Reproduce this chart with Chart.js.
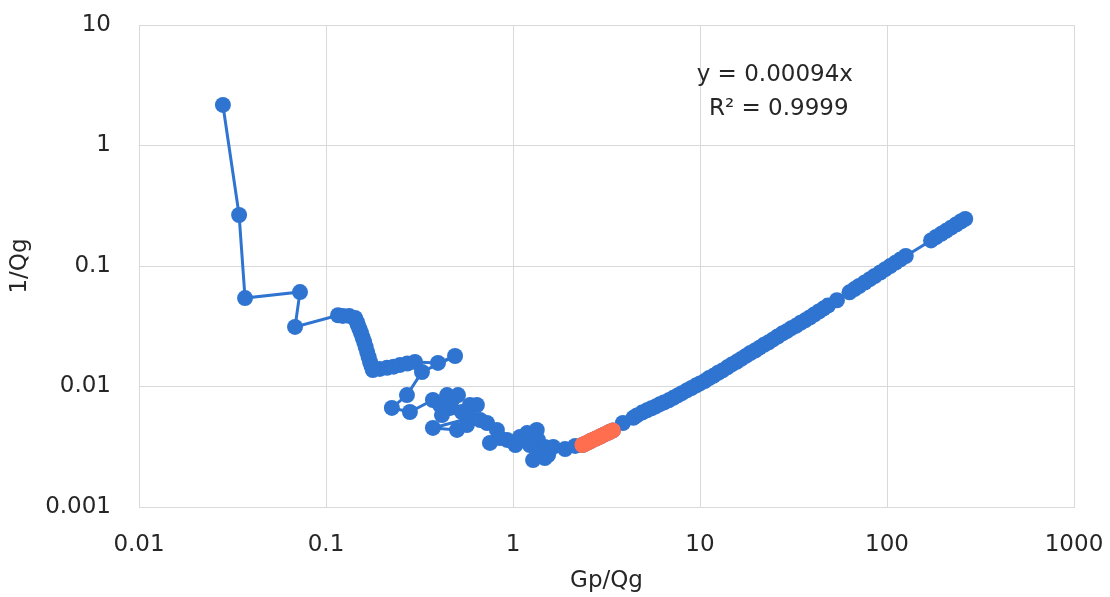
<!DOCTYPE html>
<html>
<head>
<meta charset="utf-8">
<script src="https://cdn.jsdelivr.net/npm/chart.js@4.4.1/dist/chart.umd.min.js"></script>
<style>
  html, body { margin: 0; padding: 0; background: #fff; }
  #wrap { width: 1110px; height: 597px; }
</style>
</head>
<body>
<div id="wrap"><canvas id="myChart" width="1110" height="597"></canvas></div>
<script>
// early, noisy part of the curve (Gp/Qg, 1/Qg)
const earlyX = [0.0281, 0.0343, 0.0369, 0.0726, 0.0683, 0.116, 0.123, 0.133, 0.143, 0.146, 0.148, 0.151, 0.154, 0.157,
  0.160, 0.163, 0.166, 0.169, 0.172, 0.175, 0.178, 0.194, 0.212, 0.230, 0.249, 0.272, 0.299, 0.397, 0.490, 0.326,
  0.271, 0.225, 0.281, 0.373, 0.407, 0.444, 0.472, 0.508, 0.461, 0.417, 0.533, 0.589, 0.641, 0.589, 0.373, 0.502,
  0.567, 0.667, 0.726, 0.820, 0.753, 0.851, 0.929, 1.03, 1.09, 1.19, 1.34, 1.36, 1.23, 1.39, 1.28, 1.48, 1.54, 1.48,
  1.64, 1.90, 2.15];
const earlyY = [2.17, 0.265, 0.0542, 0.0608, 0.0312, 0.039, 0.0385, 0.0385, 0.037, 0.0345, 0.0324, 0.0300, 0.0278, 0.0255,
  0.0234, 0.0213, 0.0193, 0.0176, 0.0160, 0.0148, 0.0137, 0.0140, 0.0143, 0.0146, 0.0151, 0.0155, 0.0160, 0.0157, 0.0179, 0.0132,
  0.00849, 0.00664, 0.00614, 0.00773, 0.00702, 0.00849, 0.00773, 0.00849, 0.00664, 0.00579, 0.00614, 0.00702, 0.00702, 0.00548, 0.00453, 0.00436,
  0.00479, 0.00527, 0.00498, 0.00436, 0.0034, 0.00374, 0.0036, 0.00327, 0.00381, 0.00411, 0.00436, 0.0036, 0.00327, 0.0028, 0.00245, 0.00255, 0.0027, 0.00315,
  0.00315, 0.00303, 0.00321];

// points used for the fit (orange)
const fitX = [2.35, 2.43, 2.51, 2.6, 2.69, 2.78, 2.88, 2.98, 3.08, 3.19, 3.3, 3.42];
const fitY = [0.00327, 0.00335, 0.00343, 0.00353, 0.00362, 0.00370, 0.00380, 0.00390, 0.00400, 0.00410, 0.00421, 0.00432];

// late, straight part
const lateX = [3.87, 4.4, 4.6, 4.9, 5.2, 5.5, 5.8, 6.1, 6.4, 6.8, 7.2, 7.6, 8.0, 8.5, 9.0, 9.5, 10.0, 10.6, 11.2, 11.8,
  12.5, 13.2, 14.0, 14.8, 15.7, 16.6, 17.6, 18.6, 19.7, 20.8, 22.0, 23.3, 24.6, 26.0, 27.5, 29.1, 30.8, 32.6, 34.5,
  36.5, 38.6, 40.8, 43.2, 45.7, 48.3, 54, 63, 67, 71, 76, 81, 86, 92, 98, 104, 111, 118, 126,
  172, 183, 195, 207, 220, 234, 248, 262];
const lateY = [0.00498, 0.0055, 0.00575, 0.00608, 0.00634, 0.0066, 0.00684, 0.00714, 0.00736, 0.00768, 0.00806, 0.00844, 0.0088, 0.00927, 0.00972, 0.01017, 0.0106, 0.0111, 0.01176, 0.01227,
  0.013, 0.0136, 0.01442, 0.01524, 0.01601, 0.01693, 0.01795, 0.01897, 0.0199, 0.021, 0.0222, 0.0233, 0.0246, 0.026, 0.0275, 0.0288, 0.0305, 0.0319, 0.0338,
  0.0354, 0.0374, 0.0396, 0.0419, 0.0443, 0.0469, 0.052, 0.0605, 0.0643, 0.0682, 0.073, 0.0778, 0.0826, 0.0883, 0.0941, 0.0998, 0.1066, 0.1133, 0.121,
  0.163, 0.174, 0.185, 0.196, 0.208, 0.221, 0.234, 0.246];

const xTicks = [0.01, 0.1, 1, 10, 100, 1000];
const xTickLabels = ['0.01', '0.1', '1', '10', '100', '1000'];
const yTicks = [0.001, 0.01, 0.1, 1, 10];
const yTickLabels = ['0.001', '0.01', '0.1', '1', '10'];

const fitText = ['y = 0.00094x', 'R² = 0.9999'];

function toPoints(xs, ys) {
  return xs.map((x, i) => ({ x: x, y: ys[i] }));
}

const allX = earlyX.concat(fitX, lateX);
const allY = earlyY.concat(fitY, lateY);

const blue = '#2E74D0';
const orange = '#FF6E4E';
const font = "'DejaVu Sans', sans-serif";
const textColor = '#262626';

// write the equation in the upper right
const fitLabel = {
  id: 'fitLabel',
  afterDraw(chart) {
    const c = chart.ctx;
    const a = chart.chartArea;
    c.save();
    c.fillStyle = textColor;
    c.font = '23px ' + font;
    c.textAlign = 'center';
    c.textBaseline = 'middle';
    const cx = a.left + (a.right - a.left) * 0.68;
    c.fillText(fitText[0], cx, a.top + 50);
    c.fillText(fitText[1], cx + 4, a.top + 84);
    c.restore();
  }
};

const ctx = document.getElementById('myChart');

new Chart(ctx, {
  type: 'scatter',
  data: {
    datasets: [{
      data: toPoints(fitX, fitY),
      showLine: true,
      borderColor: orange,
      backgroundColor: orange,
      borderWidth: 3,
      pointRadius: 8,
      pointBorderWidth: 0
    }, {
      data: toPoints(allX, allY),
      showLine: true,
      borderColor: blue,
      backgroundColor: blue,
      borderWidth: 3,
      pointRadius: 8,
      pointBorderWidth: 0
    }]
  },
  options: {
    responsive: false,
    animation: false,
    layout: { padding: { top: 25, right: 36, left: 0, bottom: 0 } },
    plugins: { legend: false, tooltip: { enabled: false } },
    scales: {
      x: {
        type: 'logarithmic',
        min: 0.01,
        max: 1000,
        afterBuildTicks: (s) => { s.ticks = xTicks.map(v => ({ value: v })); },
        afterFit: (s) => { s.height = 90; s.paddingLeft = 0; s.paddingRight = 0; },
        ticks: {
          callback: (v) => xTickLabels[xTicks.indexOf(v)],
          font: { family: font, size: 23 },
          color: textColor,
          padding: 24,
          maxRotation: 0
        },
        grid: { color: '#d9d9d9', drawTicks: false },
        border: { color: '#d9d9d9' },
        title: {
          display: true,
          text: 'Gp/Qg',
          font: { family: font, size: 23 },
          color: textColor,
          padding: { top: 0, bottom: 2 }
        }
      },
      y: {
        type: 'logarithmic',
        min: 0.001,
        max: 10,
        afterBuildTicks: (s) => { s.ticks = yTicks.map(v => ({ value: v })); },
        afterFit: (s) => { s.width = 139; s.paddingTop = 0; s.paddingBottom = 0; },
        ticks: {
          callback: (v) => yTickLabels[yTicks.indexOf(v)],
          font: { family: font, size: 23 },
          color: textColor,
          padding: 28
        },
        grid: { color: '#d9d9d9', drawTicks: false },
        border: { color: '#d9d9d9' },
        title: {
          display: true,
          text: '1/Qg',
          font: { family: font, size: 23 },
          color: textColor,
          padding: { top: 6, bottom: 0 }
        }
      }
    }
  },
  plugins: [fitLabel]
});
</script>
</body>
</html>
